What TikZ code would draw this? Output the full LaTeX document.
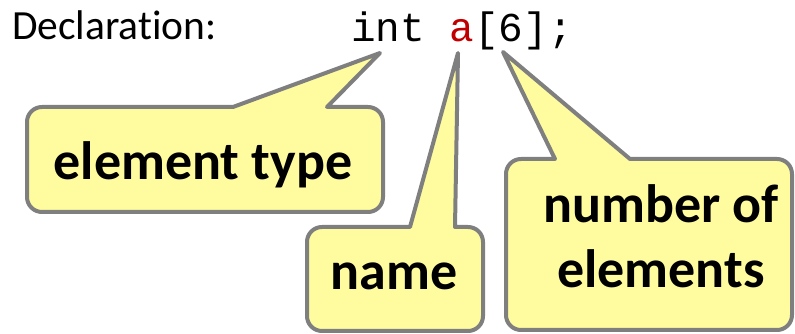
\documentclass[tikz,border=0pt]{standalone}
\usepackage{fontspec}
\setmainfont{Carlito}[Ligatures=NoCommon]
\newfontfamily\codefont{Liberation Mono}
\definecolor{bubblefill}{RGB}{255,252,160}
\definecolor{bubbleline}{RGB}{127,127,127}
\definecolor{namered}{RGB}{192,0,0}
\begin{document}
\begin{tikzpicture}[x=1pt,y=1pt,
  bubble/.style={draw=bubbleline, fill=bubblefill, line width=4pt, line join=round},
  calloutlabel/.style={font=\bfseries\fontsize{54}{65}\selectfont, inner sep=0pt, align=center}]
\useasboundingbox (0,0) rectangle (795,334);

% heading and the declaration itself
\node[anchor=base west, inner sep=0pt, font=\fontsize{41.5}{48}\selectfont] (decl) at (12,294) {Declaration:};
\node[anchor=base west, inner sep=0pt, font=\codefont\fontsize{41}{48}\selectfont] (code) at (351,292) {int \textcolor{namered}{a}[6];};

% where each callout points
\coordinate (tipType) at (380,281);
\coordinate (tipName) at (458,281);
\coordinate (tipSize) at (503,282);

% callout: element type
\draw[bubble] (27,212) arc[start angle=180,end angle=90,radius=15pt]
  -- (233,227) -- (tipType) -- (327,227) -- (368,227)
  arc[start angle=90,end angle=0,radius=15pt] -- (383,137)
  arc[start angle=0,end angle=-90,radius=15pt] -- (42,122)
  arc[start angle=-90,end angle=-180,radius=15pt] -- cycle;

% callout: name
\draw[bubble] (307,92) arc[start angle=180,end angle=90,radius=15pt]
  -- (410,107) -- (tipName) -- (455,107) -- (468,107)
  arc[start angle=90,end angle=0,radius=15pt] -- (483,18)
  arc[start angle=0,end angle=-90,radius=15pt] -- (322,3)
  arc[start angle=-90,end angle=-180,radius=15pt] -- cycle;

% callout: number of elements
\draw[bubble] (506,160) arc[start angle=180,end angle=90,radius=15pt]
  -- (555,175) -- (tipSize) -- (630,175) -- (777,175)
  arc[start angle=90,end angle=0,radius=15pt] -- (792,19)
  arc[start angle=0,end angle=-90,radius=15pt] -- (521,4)
  arc[start angle=-90,end angle=-180,radius=15pt] -- cycle;

\node[calloutlabel, anchor=base] (lblType) at (203,154) {element type};
\node[calloutlabel, anchor=base] (lblName) at (394,44) {name};
% the base of a two-line node sits on its last line
\node[calloutlabel, anchor=base] (lblSize) at (661,46) {number of\\elements};
\end{tikzpicture}
\end{document}
